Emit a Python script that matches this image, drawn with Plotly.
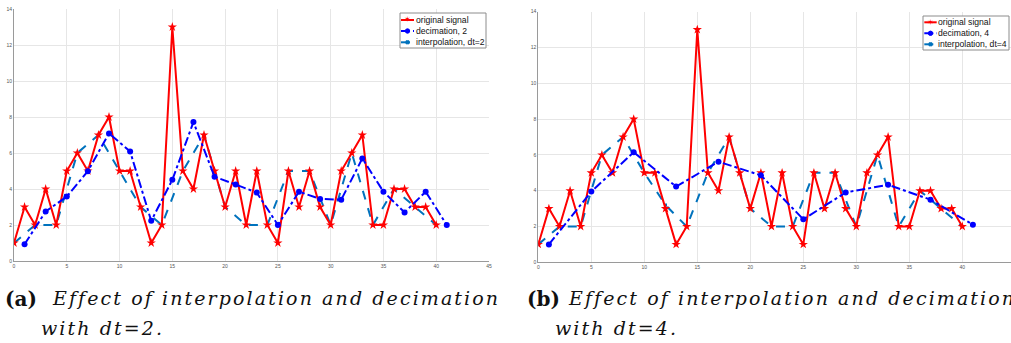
import plotly.graph_objects as go

W, H = 1011, 343

# ---------------- data ----------------
x_orig = list(range(41))
orig = [1, 3, 2, 4, 2, 5, 6, 5, 7, 8,
        5, 5, 3, 1, 2, 13, 5, 4, 7, 5,
        3, 5, 2, 5, 2, 1, 5, 3, 5, 3,
        2, 5, 6, 7, 2, 2, 4, 4, 3, 3, 2]

dec2_x = [1, 3, 5, 7, 9, 11, 13, 15, 17, 19, 21, 23, 25, 27, 29, 31, 33, 35, 37, 39, 41]
dec2_y = [0.93, 2.75, 3.58, 4.99, 7.09, 6.09, 2.23, 4.51, 7.72, 4.68, 4.25,
          3.8, 2.0, 3.85, 3.45, 3.4, 5.7, 3.85, 2.7, 3.85, 2.0]

interp2_x = [0, 2, 4, 6, 8, 10, 12, 14, 16, 18, 20, 22, 24, 26, 28, 30, 32, 34, 36, 38, 40]
interp2_y = [1, 2, 2, 6, 7, 5, 3, 2, 5, 7, 3, 2, 2, 5, 5, 2, 6, 2, 4, 3, 2]

dec4_x = [1, 5, 9, 13, 17, 21, 25, 29, 33, 37, 41]
dec4_y = [1.0, 3.95, 6.15, 4.23, 5.62, 4.86, 2.4, 3.9, 4.33, 3.5, 2.1]

interp4_x = [0, 2, 4, 6, 8, 10, 12, 14, 16, 18, 20, 22, 24, 26, 28, 30, 32, 34, 36, 38, 40]
interp4_y = [1, 2, 2, 6, 7, 5, 3.2, 2, 5, 7, 3, 2, 2, 5, 5, 2, 6, 2, 4, 3, 2]

x_ticks = [0, 5, 10, 15, 20, 25, 30, 35, 40, 45]
y_ticks = [0, 2, 4, 6, 8, 10, 12, 14]

labels_a = ["original signal", "decimation, 2", "interpolation, dt=2"]
labels_b = ["original signal", "decimation, 4", "interpolation, dt=4"]
caption_a = ["(a)", "Effect of interpolation and decimation", "with dt=2."]
caption_b = ["(b)", "Effect of interpolation and decimation", "with dt=4."]

RED = "#FF0000"
BLUE = "#0000FF"
LBLUE = "#0072BD"


def px(x):
    return x / W


def py(y):
    return 1 - y / H


fig = go.Figure()


def add_panel(xa, ya, dec_x, dec_y, it_x, it_y):
    fig.add_trace(go.Scatter(x=it_x, y=it_y, mode="lines+markers", xaxis=xa, yaxis=ya,
                             line=dict(color=LBLUE, width=2, dash="dash"),
                             marker=dict(size=3, color=LBLUE, symbol="square"),
                             showlegend=False))
    fig.add_trace(go.Scatter(x=x_orig, y=orig, mode="lines+markers", xaxis=xa, yaxis=ya,
                             line=dict(color=RED, width=2),
                             marker=dict(size=7, color=RED, symbol="star"),
                             showlegend=False))
    fig.add_trace(go.Scatter(x=dec_x, y=dec_y, mode="lines+markers", xaxis=xa, yaxis=ya,
                             line=dict(color=BLUE, width=2, dash="dashdot"),
                             marker=dict(size=6, color=BLUE, symbol="circle"),
                             showlegend=False))


add_panel("x", "y", dec2_x, dec2_y, interp2_x, interp2_y)
add_panel("x2", "y2", dec4_x, dec4_y, interp4_x, interp4_y)

axis_common = dict(showgrid=True, gridcolor="#e6e6e6", gridwidth=1, zeroline=False,
                   showline=True, linecolor="#9a9a9a", linewidth=1, ticks="",
                   tickfont=dict(size=5, color="#555555", family="Liberation Sans"),
                   automargin=False)

fig.update_layout(
    width=W, height=H, margin=dict(l=0, r=0, t=0, b=0),
    paper_bgcolor="white", plot_bgcolor="white", showlegend=False,
    xaxis=dict(domain=[px(14), px(489)], range=[0, 45], tickvals=x_ticks, anchor="y", **axis_common),
    yaxis=dict(domain=[py(261), py(9)], range=[0, 14], tickvals=y_ticks, anchor="x", **axis_common),
    xaxis2=dict(domain=[px(538.3), 1.0], range=[0, (W - 538.3) / 10.6], tickvals=x_ticks, anchor="y2", **axis_common),
    yaxis2=dict(domain=[py(262.3), py(11.7)], range=[0, 14], tickvals=y_ticks, anchor="x2", **axis_common),
)

shapes = []
annotations = []


def add_legend(x0, y0, x1, y1, rows, samp_x0, samp_x1, text_x, labels):
    shapes.append(dict(type="rect", xref="paper", yref="paper",
                       x0=px(x0), x1=px(x1), y0=py(y1), y1=py(y0),
                       line=dict(color="#8c8c8c", width=1), fillcolor="white", layer="above"))
    styles = [(RED, "solid", "star"), (BLUE, "dashdot", "circle"), (LBLUE, "dash", "square")]
    for ry, (col, dash, sym), lab in zip(rows, styles, labels):
        shapes.append(dict(type="line", xref="paper", yref="paper",
                           x0=px(samp_x0), x1=px(samp_x1), y0=py(ry), y1=py(ry),
                           line=dict(color=col, width=2, dash=dash), layer="above"))
        cx = (samp_x0 + samp_x1) / 2
        r = 2.2 if sym != "square" else 1.5
        if sym == "circle":
            shapes.append(dict(type="circle", xref="paper", yref="paper",
                               x0=px(cx - r), x1=px(cx + r), y0=py(ry + r), y1=py(ry - r),
                               line=dict(color=col, width=1), fillcolor=col, layer="above"))
        elif sym == "square":
            shapes.append(dict(type="rect", xref="paper", yref="paper",
                               x0=px(cx - r), x1=px(cx + r), y0=py(ry + r), y1=py(ry - r),
                               line=dict(color=col, width=1), fillcolor=col, layer="above"))
        else:
            annotations.append(dict(text="\u2736", x=px(cx), y=py(ry), xref="paper", yref="paper",
                                    xanchor="center", yanchor="middle", showarrow=False,
                                    font=dict(size=8, color=col, family="DejaVu Sans")))
        annotations.append(dict(text=lab, x=px(text_x), y=py(ry), xref="paper", yref="paper",
                                xanchor="left", yanchor="middle", showarrow=False, borderpad=0,
                                font=dict(size=8.6, color="#111111", family="Liberation Sans")))


add_legend(400, 13, 486, 48, [20, 31, 42.3], 401, 414, 414.5, labels_a)
add_legend(923, 16, 1009, 50, [22.3, 33.3, 44.3], 924.3, 936.7, 937, labels_b)


def spaced(t, ls):
    return "<span style='letter-spacing:%.2fpx'>%s</span>" % (ls, t)


def add_caption(xa, xe, xw, cap):
    annotations.append(dict(text="<b>" + cap[0] + "</b>", x=px(xa), y=py(299), xref="paper", yref="paper",
                            xanchor="left", yanchor="middle", showarrow=False, borderpad=0,
                            font=dict(size=20, color="#111111", family="DejaVu Serif")))
    annotations.append(dict(text="<i>" + spaced(cap[1], 2.1) + "</i>", x=px(xe), y=py(298), xref="paper",
                            yref="paper", xanchor="left", yanchor="middle", showarrow=False, borderpad=0,
                            font=dict(size=19, color="#111111", family="DejaVu Serif")))
    annotations.append(dict(text="<i>" + spaced(cap[2], 2.1) + "</i>", x=px(xw), y=py(328), xref="paper",
                            yref="paper", xanchor="left", yanchor="middle", showarrow=False, borderpad=0,
                            font=dict(size=19, color="#111111", family="DejaVu Serif")))


add_caption(4, 51, 40, caption_a)
add_caption(526, 567, 554, caption_b)

fig.update_layout(shapes=shapes, annotations=annotations)
fig.write_html("out.html")
